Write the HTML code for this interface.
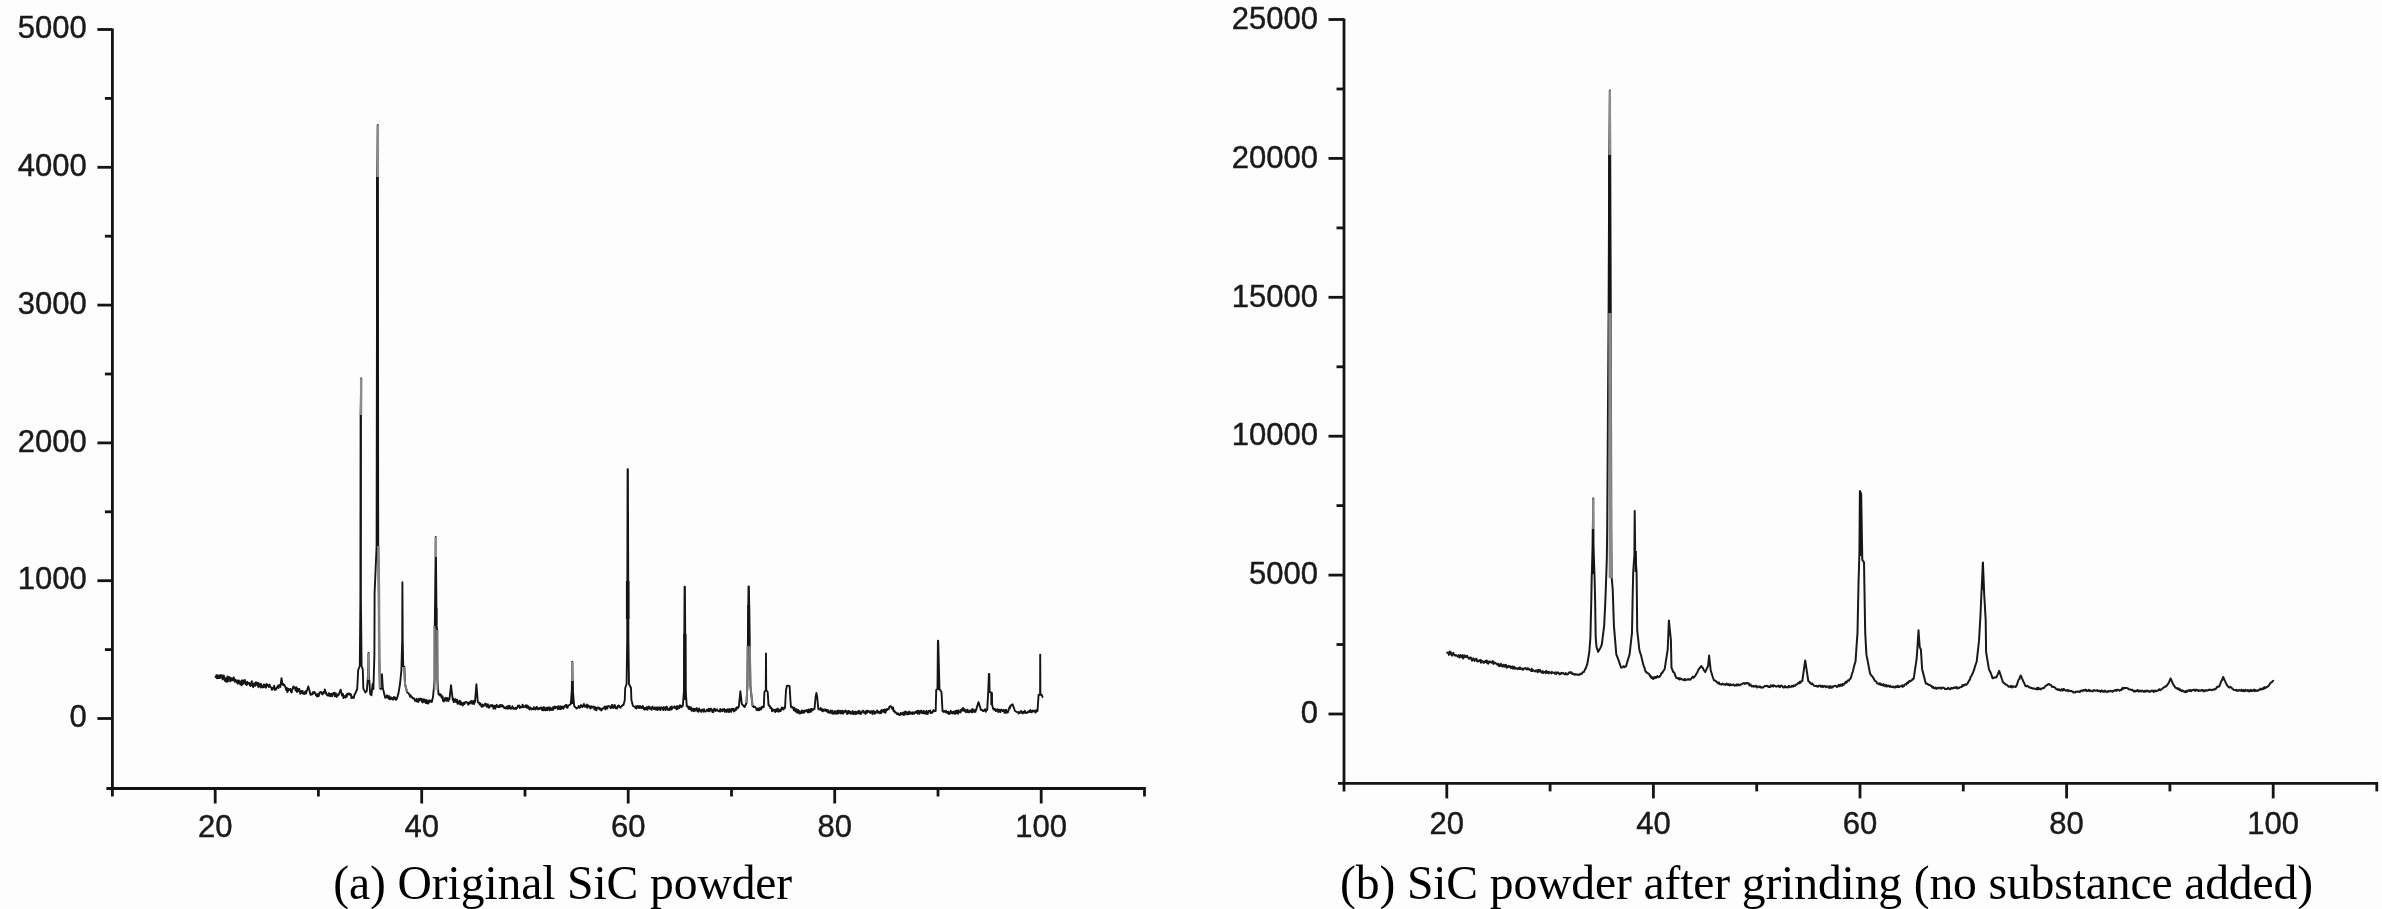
<!DOCTYPE html>
<html><head><meta charset="utf-8"><style>
html,body{margin:0;padding:0;background:#fdfdfd;}
body{width:2382px;height:909px;overflow:hidden;}
svg{display:block;will-change:transform;}
</style></head><body>
<svg width="2382" height="909" viewBox="0 0 2382 909" shape-rendering="geometricPrecision">
<line x1="112.4" y1="28.5" x2="112.4" y2="796.5" stroke="#141414" stroke-width="2.8"/>
<line x1="106.4" y1="788.5" x2="1144.5" y2="788.5" stroke="#141414" stroke-width="2.8"/>
<line x1="1144.5" y1="787.0" x2="1144.5" y2="796.5" stroke="#141414" stroke-width="2.8"/>
<line x1="97.4" y1="718.5" x2="112.4" y2="718.5" stroke="#141414" stroke-width="2.8"/>
<line x1="104.9" y1="649.6" x2="112.4" y2="649.6" stroke="#141414" stroke-width="2.8"/>
<line x1="97.4" y1="580.7" x2="112.4" y2="580.7" stroke="#141414" stroke-width="2.8"/>
<line x1="104.9" y1="511.8" x2="112.4" y2="511.8" stroke="#141414" stroke-width="2.8"/>
<line x1="97.4" y1="442.9" x2="112.4" y2="442.9" stroke="#141414" stroke-width="2.8"/>
<line x1="104.9" y1="374.0" x2="112.4" y2="374.0" stroke="#141414" stroke-width="2.8"/>
<line x1="97.4" y1="305.1" x2="112.4" y2="305.1" stroke="#141414" stroke-width="2.8"/>
<line x1="104.9" y1="236.2" x2="112.4" y2="236.2" stroke="#141414" stroke-width="2.8"/>
<line x1="97.4" y1="167.3" x2="112.4" y2="167.3" stroke="#141414" stroke-width="2.8"/>
<line x1="104.9" y1="98.4" x2="112.4" y2="98.4" stroke="#141414" stroke-width="2.8"/>
<line x1="97.4" y1="29.5" x2="112.4" y2="29.5" stroke="#141414" stroke-width="2.8"/>
<text x="86.8" y="727.2" font-family="Liberation Sans" font-size="31" text-anchor="end" fill="#1a1a1a" stroke="#1a1a1a" stroke-width="0.45">0</text>
<text x="86.8" y="589.4" font-family="Liberation Sans" font-size="31" text-anchor="end" fill="#1a1a1a" stroke="#1a1a1a" stroke-width="0.45">1000</text>
<text x="86.8" y="451.6" font-family="Liberation Sans" font-size="31" text-anchor="end" fill="#1a1a1a" stroke="#1a1a1a" stroke-width="0.45">2000</text>
<text x="86.8" y="313.8" font-family="Liberation Sans" font-size="31" text-anchor="end" fill="#1a1a1a" stroke="#1a1a1a" stroke-width="0.45">3000</text>
<text x="86.8" y="176.0" font-family="Liberation Sans" font-size="31" text-anchor="end" fill="#1a1a1a" stroke="#1a1a1a" stroke-width="0.45">4000</text>
<text x="86.8" y="38.2" font-family="Liberation Sans" font-size="31" text-anchor="end" fill="#1a1a1a" stroke="#1a1a1a" stroke-width="0.45">5000</text>
<line x1="215.2" y1="788.5" x2="215.2" y2="803.5" stroke="#141414" stroke-width="2.8"/>
<line x1="318.4" y1="788.5" x2="318.4" y2="796.5" stroke="#141414" stroke-width="2.8"/>
<line x1="421.7" y1="788.5" x2="421.7" y2="803.5" stroke="#141414" stroke-width="2.8"/>
<line x1="525.0" y1="788.5" x2="525.0" y2="796.5" stroke="#141414" stroke-width="2.8"/>
<line x1="628.2" y1="788.5" x2="628.2" y2="803.5" stroke="#141414" stroke-width="2.8"/>
<line x1="731.5" y1="788.5" x2="731.5" y2="796.5" stroke="#141414" stroke-width="2.8"/>
<line x1="834.7" y1="788.5" x2="834.7" y2="803.5" stroke="#141414" stroke-width="2.8"/>
<line x1="938.0" y1="788.5" x2="938.0" y2="796.5" stroke="#141414" stroke-width="2.8"/>
<line x1="1041.2" y1="788.5" x2="1041.2" y2="803.5" stroke="#141414" stroke-width="2.8"/>
<text x="215.2" y="837.4" font-family="Liberation Sans" font-size="31" text-anchor="middle" fill="#1a1a1a" stroke="#1a1a1a" stroke-width="0.45">20</text>
<text x="421.7" y="837.4" font-family="Liberation Sans" font-size="31" text-anchor="middle" fill="#1a1a1a" stroke="#1a1a1a" stroke-width="0.45">40</text>
<text x="628.2" y="837.4" font-family="Liberation Sans" font-size="31" text-anchor="middle" fill="#1a1a1a" stroke="#1a1a1a" stroke-width="0.45">60</text>
<text x="834.7" y="837.4" font-family="Liberation Sans" font-size="31" text-anchor="middle" fill="#1a1a1a" stroke="#1a1a1a" stroke-width="0.45">80</text>
<text x="1041.2" y="837.4" font-family="Liberation Sans" font-size="31" text-anchor="middle" fill="#1a1a1a" stroke="#1a1a1a" stroke-width="0.45">100</text>
<line x1="1344.0" y1="18.5" x2="1344.0" y2="791.4" stroke="#141414" stroke-width="2.8"/>
<line x1="1338.0" y1="783.4" x2="2376.8" y2="783.4" stroke="#141414" stroke-width="2.8"/>
<line x1="2376.8" y1="781.9" x2="2376.8" y2="791.4" stroke="#141414" stroke-width="2.8"/>
<line x1="1328.5" y1="714.0" x2="1344.0" y2="714.0" stroke="#141414" stroke-width="2.8"/>
<line x1="1336.5" y1="644.5" x2="1344.0" y2="644.5" stroke="#141414" stroke-width="2.8"/>
<line x1="1328.5" y1="575.1" x2="1344.0" y2="575.1" stroke="#141414" stroke-width="2.8"/>
<line x1="1336.5" y1="505.6" x2="1344.0" y2="505.6" stroke="#141414" stroke-width="2.8"/>
<line x1="1328.5" y1="436.2" x2="1344.0" y2="436.2" stroke="#141414" stroke-width="2.8"/>
<line x1="1336.5" y1="366.8" x2="1344.0" y2="366.8" stroke="#141414" stroke-width="2.8"/>
<line x1="1328.5" y1="297.3" x2="1344.0" y2="297.3" stroke="#141414" stroke-width="2.8"/>
<line x1="1336.5" y1="227.9" x2="1344.0" y2="227.9" stroke="#141414" stroke-width="2.8"/>
<line x1="1328.5" y1="158.4" x2="1344.0" y2="158.4" stroke="#141414" stroke-width="2.8"/>
<line x1="1336.5" y1="89.0" x2="1344.0" y2="89.0" stroke="#141414" stroke-width="2.8"/>
<line x1="1328.5" y1="19.5" x2="1344.0" y2="19.5" stroke="#141414" stroke-width="2.8"/>
<text x="1318.0" y="723.2" font-family="Liberation Sans" font-size="31" text-anchor="end" fill="#1a1a1a" stroke="#1a1a1a" stroke-width="0.45">0</text>
<text x="1318.0" y="584.3" font-family="Liberation Sans" font-size="31" text-anchor="end" fill="#1a1a1a" stroke="#1a1a1a" stroke-width="0.45">5000</text>
<text x="1318.0" y="445.4" font-family="Liberation Sans" font-size="31" text-anchor="end" fill="#1a1a1a" stroke="#1a1a1a" stroke-width="0.45">10000</text>
<text x="1318.0" y="306.5" font-family="Liberation Sans" font-size="31" text-anchor="end" fill="#1a1a1a" stroke="#1a1a1a" stroke-width="0.45">15000</text>
<text x="1318.0" y="167.6" font-family="Liberation Sans" font-size="31" text-anchor="end" fill="#1a1a1a" stroke="#1a1a1a" stroke-width="0.45">20000</text>
<text x="1318.0" y="28.7" font-family="Liberation Sans" font-size="31" text-anchor="end" fill="#1a1a1a" stroke="#1a1a1a" stroke-width="0.45">25000</text>
<line x1="1446.8" y1="783.4" x2="1446.8" y2="798.4" stroke="#141414" stroke-width="2.8"/>
<line x1="1550.1" y1="783.4" x2="1550.1" y2="791.4" stroke="#141414" stroke-width="2.8"/>
<line x1="1653.4" y1="783.4" x2="1653.4" y2="798.4" stroke="#141414" stroke-width="2.8"/>
<line x1="1756.7" y1="783.4" x2="1756.7" y2="791.4" stroke="#141414" stroke-width="2.8"/>
<line x1="1860.0" y1="783.4" x2="1860.0" y2="798.4" stroke="#141414" stroke-width="2.8"/>
<line x1="1963.3" y1="783.4" x2="1963.3" y2="791.4" stroke="#141414" stroke-width="2.8"/>
<line x1="2066.6" y1="783.4" x2="2066.6" y2="798.4" stroke="#141414" stroke-width="2.8"/>
<line x1="2169.9" y1="783.4" x2="2169.9" y2="791.4" stroke="#141414" stroke-width="2.8"/>
<line x1="2273.2" y1="783.4" x2="2273.2" y2="798.4" stroke="#141414" stroke-width="2.8"/>
<text x="1446.8" y="833.6" font-family="Liberation Sans" font-size="31" text-anchor="middle" fill="#1a1a1a" stroke="#1a1a1a" stroke-width="0.45">20</text>
<text x="1653.4" y="833.6" font-family="Liberation Sans" font-size="31" text-anchor="middle" fill="#1a1a1a" stroke="#1a1a1a" stroke-width="0.45">40</text>
<text x="1860.0" y="833.6" font-family="Liberation Sans" font-size="31" text-anchor="middle" fill="#1a1a1a" stroke="#1a1a1a" stroke-width="0.45">60</text>
<text x="2066.6" y="833.6" font-family="Liberation Sans" font-size="31" text-anchor="middle" fill="#1a1a1a" stroke="#1a1a1a" stroke-width="0.45">80</text>
<text x="2273.2" y="833.6" font-family="Liberation Sans" font-size="31" text-anchor="middle" fill="#1a1a1a" stroke="#1a1a1a" stroke-width="0.45">100</text>
<text x="333.3" y="899.2" font-family="Liberation Serif" font-size="47.6" text-anchor="start" fill="#000" textLength="458.9" lengthAdjust="spacing">(a) Original SiC powder</text>
<text x="1340.0" y="899.2" font-family="Liberation Serif" font-size="47.6" text-anchor="start" fill="#000" textLength="973" lengthAdjust="spacing">(b) SiC powder after grinding (no substance added)</text>
<polyline points="215.5,677.0 216.0,676.1 216.4,675.2 216.9,678.4 217.4,675.1 217.9,678.0 218.3,677.1 218.8,678.1 219.3,675.4 219.8,678.0 220.3,675.2 220.8,677.5 221.2,675.2 221.7,675.3 222.2,677.3 222.7,679.6 223.2,677.6 223.7,675.5 224.1,676.3 224.6,679.0 225.1,681.1 225.6,679.1 226.1,678.2 226.5,681.9 227.0,679.2 227.5,676.5 227.9,681.5 228.4,678.1 228.8,677.3 229.3,677.2 229.8,678.4 230.2,681.4 230.7,677.7 231.1,680.1 231.6,680.5 232.0,679.0 232.5,679.8 233.0,680.3 233.4,677.5 233.9,677.7 234.3,678.8 234.8,681.8 235.2,680.5 235.7,680.0 236.2,681.8 236.6,681.2 237.1,680.4 237.5,683.6 238.0,682.0 238.5,683.2 238.9,680.5 239.4,682.6 239.8,682.3 240.3,684.5 240.8,683.6 241.2,681.0 241.7,685.2 242.1,680.1 242.6,681.9 243.0,684.0 243.5,682.5 244.0,680.5 244.4,682.5 244.9,679.9 245.3,683.7 245.8,684.3 246.2,683.2 246.7,685.0 247.2,681.7 247.6,684.0 248.1,683.5 248.5,683.4 249.0,683.0 249.5,682.9 249.9,685.3 250.4,686.1 250.8,683.4 251.3,684.7 251.8,681.2 252.2,685.2 252.7,685.0 253.1,687.2 253.6,686.3 254.0,683.3 254.5,684.7 255.0,684.1 255.4,685.9 255.9,682.1 256.3,684.8 256.8,683.2 257.2,683.0 257.7,682.7 258.2,687.0 258.6,683.3 259.1,684.1 259.5,685.1 260.0,685.8 260.5,687.5 260.9,683.7 261.4,685.4 261.8,685.9 262.3,687.4 262.8,687.1 263.2,687.3 263.7,684.4 264.1,685.0 264.6,684.7 265.0,687.2 265.5,685.3 266.0,687.7 266.4,684.0 266.9,684.3 267.3,684.7 267.8,684.9 268.2,686.3 268.7,687.0 269.2,685.6 269.6,684.6 270.1,686.7 270.5,686.7 271.0,687.5 271.5,687.9 271.9,689.8 272.4,688.5 272.8,687.7 273.3,688.3 273.8,688.6 274.2,685.7 274.7,689.8 275.1,689.2 275.6,689.7 276.0,689.4 276.5,688.0 277.0,687.3 277.5,687.2 278.0,685.7 278.4,688.1 278.9,685.2 279.4,685.1 279.9,685.6 280.4,686.9 281.5,678.1 282.6,684.7 283.1,683.8 283.6,685.3 284.0,684.6 284.5,685.1 285.0,686.5 285.4,686.9 285.9,688.9 286.4,690.2 286.9,688.0 287.4,692.1 287.9,690.9 288.4,688.8 288.8,689.3 289.3,689.9 289.8,690.0 290.3,688.9 290.8,690.8 291.3,692.1 291.7,692.4 292.2,689.4 292.7,689.1 293.2,686.8 293.6,686.5 294.1,688.0 294.6,687.6 295.1,687.5 295.6,690.5 296.1,687.6 296.5,687.3 297.0,692.0 297.5,690.3 298.0,688.8 298.5,690.8 299.0,691.2 299.4,688.9 299.9,691.5 300.3,693.8 300.8,693.5 301.2,692.8 301.7,690.9 302.2,691.6 302.6,690.9 303.1,693.9 303.5,693.0 304.0,693.0 304.5,694.0 305.0,691.9 305.5,691.2 306.0,693.5 306.5,692.0 308.3,686.4 310.0,692.5 310.5,694.7 310.9,694.3 311.4,694.3 311.9,694.5 312.3,694.3 312.8,692.3 313.2,693.7 313.7,693.2 314.2,691.9 314.6,692.1 315.1,693.3 315.6,693.4 316.0,695.4 316.5,694.7 317.0,696.5 317.4,694.2 317.9,696.1 318.3,696.2 318.8,695.9 319.2,693.3 319.7,692.5 320.2,692.4 320.6,692.2 321.1,692.0 321.5,693.7 322.0,693.0 322.5,694.4 322.9,693.8 323.4,692.0 323.9,692.4 324.4,692.7 324.8,689.4 325.3,690.8 325.9,692.4 326.4,694.5 326.9,694.9 327.5,694.7 328.0,695.7 328.4,694.5 328.9,693.2 329.3,695.7 329.8,693.7 330.2,695.7 330.7,696.3 331.2,693.9 331.6,693.8 332.1,696.1 332.5,695.1 333.0,694.1 333.5,692.8 333.9,692.7 334.4,692.9 334.8,696.2 335.3,695.8 335.8,693.2 336.2,696.1 336.7,696.9 337.1,695.6 337.6,694.4 338.0,695.3 338.5,695.2 340.7,689.7 342.0,695.5 342.5,694.2 343.0,693.9 343.5,698.1 344.0,696.3 344.5,696.7 344.9,696.0 345.4,697.6 345.8,695.3 346.3,696.9 346.8,696.6 347.2,693.8 347.7,693.8 348.1,693.8 348.6,693.4 349.0,694.6 349.5,694.1 350.0,693.6 350.4,694.9 350.9,694.2 351.4,698.1 351.9,696.3 352.3,697.3 352.8,698.0 353.4,697.4 353.9,697.7 354.4,694.7 355.0,694.1 357.2,689.0 358.2,670.0 359.8,666.0 360.4,600.0 360.6,415.0 361.2,378.5 361.0,415.0 360.9,600.0 361.6,666.0 362.8,669.5 363.3,688.6 365.5,692.5 366.8,691.0 368.1,675.0 368.5,653.0 368.9,675.0 370.2,694.0 371.5,695.2 372.6,684.0 373.4,689.0 374.4,655.0 374.6,593.0 376.6,546.0 377.2,177.0 377.8,125.0 377.9,177.0 378.2,546.0 378.8,592.0 379.3,660.0 380.0,688.0 381.0,689.0 382.0,674.3 382.8,688.0 384.7,695.8 385.2,697.9 385.6,696.4 386.1,696.9 386.6,697.2 387.1,695.3 387.5,697.4 388.0,698.0 388.5,696.7 388.9,696.0 389.4,699.4 389.8,696.8 390.3,698.1 390.8,699.2 391.2,698.5 391.7,697.6 392.1,698.5 392.6,698.6 393.0,699.7 393.5,698.5 394.0,696.9 394.4,698.9 394.9,697.7 395.4,697.8 395.9,700.0 396.3,699.0 396.8,699.0 398.4,693.6 400.0,684.0 401.4,670.0 402.2,640.0 402.4,582.3 402.7,640.0 403.2,666.0 404.4,667.0 405.0,684.0 407.0,692.0 408.8,693.6 409.3,694.3 409.7,695.7 410.2,696.8 410.7,695.3 411.1,696.5 411.6,696.6 412.1,697.1 412.5,698.3 413.0,698.0 413.5,698.0 413.9,698.6 414.4,698.6 414.9,700.7 415.3,699.9 415.8,700.9 416.3,701.4 416.7,698.8 417.2,700.0 417.7,700.3 418.1,702.0 418.6,701.6 419.0,698.7 419.5,698.7 420.0,700.1 420.4,698.6 420.9,699.4 421.3,698.7 421.8,701.3 422.2,701.8 422.7,702.4 423.2,699.3 423.6,701.7 424.1,701.6 424.5,699.4 425.0,701.0 425.5,702.7 425.9,703.1 426.4,700.0 426.8,703.2 427.3,700.9 427.7,701.3 428.2,703.5 428.6,702.9 429.1,700.2 429.5,701.4 430.0,701.8 430.4,701.1 430.9,700.6 431.3,701.2 431.8,702.0 433.0,697.0 434.6,680.0 434.8,626.0 435.8,537.0 436.6,626.0 437.2,630.0 437.4,680.0 438.5,694.0 439.0,694.7 439.4,694.0 439.9,695.5 440.3,695.6 440.8,694.3 441.2,696.1 441.7,697.8 442.1,697.7 442.6,696.3 443.0,700.7 443.5,700.3 443.9,701.5 444.4,700.0 444.9,698.2 445.3,698.8 445.8,697.8 446.3,700.8 446.7,698.6 447.2,697.9 447.6,699.0 448.1,701.0 448.6,700.5 449.0,698.1 449.5,699.0 451.0,685.3 452.8,700.0 453.3,698.7 453.7,702.1 454.2,700.8 454.7,701.6 455.2,699.2 455.6,699.2 456.1,702.1 456.6,701.1 457.1,699.8 457.5,703.7 458.0,702.0 458.5,702.7 458.9,703.6 459.4,700.8 459.9,704.2 460.4,701.1 460.8,704.6 461.3,703.1 461.8,702.8 462.3,703.9 462.7,705.6 463.2,704.0 463.7,703.0 464.1,702.4 464.6,704.0 465.0,702.8 465.5,702.2 465.9,702.4 466.4,701.9 466.8,702.5 467.3,702.9 467.7,702.8 468.2,704.7 468.6,702.7 469.1,703.6 469.5,702.2 470.0,703.5 470.5,702.7 470.9,701.2 471.4,702.0 471.8,700.9 472.3,703.8 472.7,702.9 473.2,701.2 473.6,702.3 474.1,704.1 474.5,700.5 475.0,702.0 476.4,684.2 477.8,702.0 478.3,702.6 478.7,702.5 479.2,703.0 479.7,704.6 480.1,703.2 480.6,704.0 481.1,705.1 481.5,706.7 482.0,705.0 482.5,704.4 482.9,706.5 483.4,706.1 483.8,705.9 484.3,705.0 484.7,704.8 485.2,703.6 485.6,704.0 486.1,703.9 486.5,706.7 487.0,704.8 487.4,704.5 487.9,704.2 488.3,707.5 488.8,706.1 489.3,707.7 489.7,706.9 490.2,705.3 490.7,705.2 491.1,705.5 491.6,706.2 492.0,705.0 492.5,706.3 493.0,705.5 493.4,708.5 493.9,708.6 494.4,706.9 494.8,705.6 495.3,708.7 495.7,706.0 496.2,706.3 496.7,704.8 497.1,706.5 497.6,707.0 498.1,706.9 498.5,707.0 499.0,705.7 499.5,707.0 499.9,704.9 500.4,706.0 500.8,705.3 501.3,706.6 501.8,705.1 502.2,705.0 502.7,706.2 503.2,705.9 503.6,707.4 504.1,707.1 504.5,708.1 505.0,707.7 505.5,707.9 505.9,708.6 506.4,707.0 506.9,706.6 507.3,706.5 507.8,708.9 508.3,705.9 508.7,708.0 509.2,707.8 509.6,705.7 510.1,708.5 510.6,708.8 511.0,707.9 511.5,708.3 512.0,708.6 512.4,706.2 512.9,707.7 513.3,707.6 513.8,708.9 514.3,708.8 514.7,708.9 515.2,707.8 515.7,708.0 516.1,709.0 516.6,708.2 517.1,708.1 517.5,706.4 518.0,705.6 518.4,705.9 518.9,706.6 519.4,705.6 519.8,708.1 520.3,707.0 520.8,707.2 521.2,707.1 521.7,707.2 522.1,706.4 522.6,704.6 523.1,707.4 523.5,707.1 524.0,706.1 524.5,706.2 524.9,706.5 525.4,707.1 525.9,705.1 526.3,707.6 526.8,706.0 527.2,705.5 527.7,706.4 528.2,708.2 528.6,706.4 529.1,708.5 529.6,709.5 530.0,707.9 530.5,707.6 530.9,708.1 531.4,709.0 531.9,709.4 532.3,709.0 532.8,708.7 533.3,709.2 533.7,707.2 534.2,707.4 534.7,707.8 535.1,709.6 535.6,708.0 536.0,708.9 536.5,706.9 537.0,707.1 537.4,707.9 537.9,709.3 538.4,709.4 538.8,709.3 539.3,707.9 539.7,708.8 540.2,708.6 540.7,708.6 541.1,707.3 541.6,708.7 542.1,710.1 542.5,707.6 543.0,710.4 543.5,710.3 543.9,707.0 544.4,708.6 544.8,709.9 545.3,710.4 545.8,708.5 546.2,707.9 546.7,707.7 547.2,710.3 547.6,707.7 548.1,709.0 548.5,707.4 549.0,708.8 549.5,710.3 549.9,707.4 550.4,708.7 550.9,709.8 551.3,708.6 551.8,710.0 552.3,709.2 552.7,707.5 553.2,709.8 553.6,708.3 554.1,706.6 554.6,706.5 555.0,708.2 555.5,708.0 556.0,707.4 556.4,706.8 556.9,707.5 557.3,707.3 557.8,709.2 558.3,706.1 558.7,708.8 559.2,707.8 559.7,708.9 560.1,706.3 560.6,709.1 561.1,708.2 561.5,708.8 562.0,706.5 562.4,706.7 562.9,706.7 563.4,708.8 563.8,707.2 564.3,706.3 564.8,706.5 565.2,705.8 565.7,704.9 566.1,705.0 566.6,707.6 567.1,705.5 567.5,707.8 568.0,706.1 570.8,704.0 571.8,690.0 572.3,662.0 572.8,690.0 574.2,706.0 576.7,708.6 577.2,708.0 577.7,707.4 578.2,707.5 578.7,706.0 579.1,706.2 579.6,707.9 580.1,707.3 580.6,706.6 581.1,705.1 581.6,705.7 582.0,706.8 582.5,707.0 583.0,705.6 583.4,706.3 583.9,704.0 584.4,706.6 584.8,705.6 585.3,706.8 585.8,706.5 586.3,705.3 586.7,704.6 587.2,707.8 587.7,705.0 588.1,706.3 588.6,706.0 589.1,705.9 589.5,707.6 590.0,706.8 590.5,708.6 590.9,706.2 591.4,707.7 591.8,706.6 592.3,707.6 592.7,707.2 593.2,706.5 593.6,706.6 594.1,706.9 594.5,709.5 595.0,708.1 595.5,707.3 595.9,709.9 596.4,710.3 596.8,708.5 597.3,707.5 597.7,707.8 598.2,707.5 598.6,708.6 599.1,707.8 599.5,708.4 600.0,709.5 600.5,708.5 600.9,709.5 601.4,710.5 601.8,709.9 602.3,708.5 602.7,708.4 603.2,708.6 603.6,708.0 604.1,707.7 604.5,706.6 605.0,707.2 605.5,709.5 605.9,706.4 606.4,707.6 606.8,707.9 607.3,708.6 607.7,706.2 608.2,706.2 608.6,706.0 609.1,706.4 609.5,706.4 610.0,706.5 610.5,708.2 610.9,707.8 611.4,707.9 611.9,704.9 612.4,705.0 612.8,707.4 613.3,708.1 613.8,706.6 614.2,707.1 614.7,705.0 615.2,706.4 615.6,708.4 616.1,708.1 616.6,708.2 617.1,708.6 617.5,706.1 618.0,707.0 618.5,705.4 618.9,705.4 619.4,706.6 619.8,707.0 620.3,707.8 620.8,706.8 621.2,706.4 621.7,706.5 622.1,705.4 622.6,705.4 623.0,704.8 623.5,705.0 624.8,700.0 625.2,688.0 626.6,684.0 627.2,640.0 627.6,469.3 627.9,469.3 628.4,640.0 629.0,684.0 631.0,688.0 631.4,700.0 633.0,706.0 635.0,707.0 635.5,708.1 635.9,706.1 636.4,708.6 636.8,707.7 637.3,706.5 637.7,705.9 638.2,706.4 638.6,707.9 639.1,708.1 639.5,706.1 640.0,706.0 640.5,707.6 640.9,707.9 641.4,707.2 641.8,706.7 642.3,708.1 642.7,706.0 643.2,707.1 643.6,707.7 644.1,709.6 644.5,708.5 645.0,708.0 645.5,709.4 645.9,708.0 646.4,707.1 646.9,707.2 647.4,709.8 647.8,708.9 648.3,707.4 648.8,706.4 649.2,708.2 649.7,708.8 650.2,707.9 650.6,707.4 651.1,708.9 651.6,709.8 652.0,707.3 652.5,706.6 653.0,707.8 653.5,708.1 653.9,709.0 654.4,708.4 654.9,707.3 655.3,709.5 655.8,709.3 656.2,708.4 656.7,707.4 657.2,710.1 657.6,707.8 658.1,709.6 658.5,707.5 659.0,707.4 659.5,709.4 659.9,707.7 660.4,710.1 660.9,708.4 661.3,707.3 661.8,707.5 662.2,708.2 662.7,709.1 663.2,710.1 663.6,707.2 664.1,708.1 664.5,707.5 665.0,708.5 665.5,710.2 665.9,707.2 666.4,706.8 666.8,706.8 667.3,708.0 667.7,709.8 668.2,709.7 668.6,709.2 669.1,710.1 669.5,709.8 670.0,707.6 670.5,707.1 670.9,709.8 671.4,709.1 671.8,706.5 672.3,708.7 672.7,707.7 673.2,707.6 673.6,707.5 674.1,706.9 674.5,706.2 675.0,708.0 675.5,707.1 675.9,707.2 676.4,709.3 676.8,706.2 677.3,709.1 677.8,706.2 678.2,706.7 678.7,708.2 679.1,708.1 679.6,706.6 680.0,705.1 680.5,706.5 681.0,706.1 681.4,707.4 681.9,705.7 682.3,706.0 682.8,706.0 684.0,690.0 684.6,586.6 684.9,586.6 685.6,690.0 686.8,706.0 687.3,706.8 687.7,706.1 688.2,707.1 688.6,708.7 689.1,709.1 689.5,706.9 690.0,709.0 690.5,707.4 690.9,707.5 691.4,710.7 691.8,708.4 692.3,710.2 692.7,710.8 693.2,708.8 693.6,708.7 694.1,711.2 694.5,710.0 695.0,708.8 695.5,710.5 695.9,709.1 696.4,709.0 696.8,708.1 697.3,710.9 697.7,711.5 698.2,710.5 698.6,711.7 699.1,708.5 699.5,709.3 700.0,710.3 700.5,710.2 700.9,711.9 701.4,711.9 701.8,709.9 702.3,709.4 702.8,710.0 703.2,710.3 703.7,711.8 704.1,709.2 704.6,711.4 705.0,711.2 705.5,711.5 706.0,711.3 706.4,710.7 706.9,709.7 707.3,709.7 707.8,709.8 708.2,711.3 708.7,708.8 709.2,709.2 709.6,711.2 710.1,709.4 710.5,708.7 711.0,708.6 711.5,710.5 711.9,709.7 712.4,712.0 712.8,711.7 713.3,712.1 713.8,709.5 714.2,708.8 714.7,708.8 715.1,710.3 715.6,711.1 716.0,710.1 716.5,710.3 717.0,709.3 717.4,710.0 717.9,710.7 718.3,710.9 718.8,711.2 719.2,711.5 719.7,710.9 720.2,708.9 720.6,711.5 721.1,709.6 721.5,710.5 722.0,709.8 722.5,711.2 722.9,709.2 723.4,709.4 723.8,709.4 724.3,709.1 724.8,711.7 725.2,710.6 725.7,709.7 726.1,709.9 726.6,712.1 727.0,710.3 727.5,709.3 728.0,711.4 728.4,710.9 728.9,712.1 729.3,708.9 729.8,710.2 730.2,711.4 730.7,711.5 731.2,711.8 731.6,708.6 732.1,709.6 732.5,708.9 733.0,710.3 733.5,708.9 734.0,711.5 734.5,709.8 734.9,710.7 735.4,708.5 735.9,710.0 736.4,708.2 736.9,707.3 737.3,708.5 737.8,708.3 738.3,706.9 738.8,707.0 740.4,691.3 741.8,704.0 744.6,707.0 746.5,703.0 747.4,686.0 748.5,586.5 748.9,586.5 750.4,686.0 752.6,706.0 753.1,706.5 753.5,707.0 754.0,706.5 754.5,707.1 755.0,706.7 755.4,707.3 755.9,707.9 756.4,709.5 756.9,710.1 757.3,708.8 757.8,710.3 758.3,708.3 758.7,709.2 759.2,710.2 759.6,708.2 760.1,708.4 760.6,707.7 761.0,709.6 761.5,708.4 762.0,706.6 762.4,706.8 762.9,707.3 763.3,707.3 763.8,707.0 764.4,692.0 765.8,690.0 766.0,653.4 766.2,690.0 767.7,692.0 768.5,705.0 769.0,705.7 769.4,705.5 769.9,705.9 770.3,708.0 770.8,707.6 771.2,707.8 771.7,708.4 772.1,711.3 772.6,710.3 773.1,709.6 773.5,710.5 774.0,709.8 774.5,710.0 775.0,711.6 775.4,712.1 775.9,709.8 776.4,709.2 776.8,711.1 777.3,709.2 777.8,708.5 778.3,711.7 778.7,710.0 779.2,710.3 779.7,711.3 780.2,709.6 780.7,711.1 781.1,709.4 781.6,708.1 782.1,707.4 782.6,709.1 783.1,709.3 783.5,709.6 784.0,707.7 784.5,708.3 785.0,708.0 786.0,690.0 787.0,685.6 789.6,686.0 790.4,700.0 791.0,707.0 791.5,707.2 791.9,707.6 792.4,707.0 792.9,707.4 793.4,708.5 793.8,710.3 794.3,707.7 794.8,709.3 795.2,710.7 795.7,711.6 796.2,709.1 796.6,709.2 797.1,712.4 797.6,712.8 798.1,711.3 798.5,710.1 799.0,712.0 799.5,713.5 799.9,711.5 800.4,713.3 800.8,712.3 801.3,713.0 801.8,710.5 802.2,712.7 802.7,710.7 803.1,711.3 803.6,712.8 804.0,712.7 804.5,710.4 805.0,710.4 805.4,711.1 805.9,711.4 806.3,710.9 806.8,709.9 807.2,710.3 807.7,712.0 808.2,712.6 808.6,709.5 809.1,711.3 809.5,712.0 810.0,711.0 810.5,709.1 810.9,711.8 811.4,709.0 811.8,710.6 812.2,710.2 812.7,710.2 813.1,709.1 813.6,709.3 814.0,709.3 814.5,709.0 815.6,697.0 816.4,693.0 817.2,697.0 818.3,709.0 818.8,709.1 819.2,709.5 819.7,709.3 820.1,709.3 820.6,707.9 821.0,710.2 821.5,709.9 822.0,709.1 822.4,711.1 822.9,711.3 823.3,710.3 823.8,709.4 824.2,710.6 824.7,709.4 825.1,709.6 825.6,710.8 826.1,709.7 826.5,711.1 827.0,711.5 827.4,710.0 827.9,712.2 828.3,710.4 828.8,712.0 829.3,712.8 829.7,713.0 830.2,712.0 830.7,710.4 831.1,712.0 831.6,711.6 832.1,713.6 832.5,710.7 833.0,713.3 833.5,713.8 833.9,712.8 834.4,713.1 834.9,710.9 835.3,713.7 835.8,712.0 836.3,713.6 836.7,713.5 837.2,710.8 837.7,713.0 838.1,713.6 838.6,710.4 839.1,711.5 839.5,712.9 840.0,712.0 840.5,710.8 840.9,713.5 841.4,711.2 841.8,713.2 842.3,710.8 842.7,712.1 843.2,713.6 843.6,711.1 844.1,711.3 844.5,712.2 845.0,711.5 845.4,710.5 845.9,711.0 846.3,711.0 846.8,713.8 847.2,712.9 847.7,713.7 848.1,711.1 848.6,713.3 849.0,710.9 849.5,712.4 849.9,712.8 850.4,711.8 850.8,713.7 851.3,712.5 851.7,712.6 852.2,713.7 852.6,711.0 853.1,712.4 853.6,714.2 854.0,712.9 854.5,712.0 854.9,713.5 855.4,711.6 855.8,714.2 856.3,712.7 856.7,711.9 857.2,713.4 857.6,712.2 858.1,711.2 858.5,713.3 859.0,710.8 859.4,713.6 859.9,711.5 860.3,712.9 860.8,714.1 861.3,712.7 861.7,713.0 862.2,711.7 862.6,710.6 863.1,710.7 863.5,711.1 864.0,712.8 864.4,712.2 864.9,712.4 865.3,713.8 865.8,711.1 866.2,711.4 866.7,713.0 867.1,710.7 867.6,710.6 868.0,711.9 868.5,711.0 869.0,711.9 869.4,711.4 869.9,712.7 870.3,712.7 870.8,711.3 871.2,712.8 871.7,712.3 872.1,711.1 872.6,714.0 873.0,711.5 873.5,711.1 873.9,710.9 874.4,712.9 874.8,713.7 875.3,713.4 875.7,712.0 876.2,712.4 876.7,711.5 877.1,710.5 877.6,712.7 878.1,712.4 878.5,711.5 879.0,712.5 879.5,711.7 879.9,713.4 880.4,712.6 880.9,710.8 881.3,713.1 881.8,710.0 882.3,711.6 882.7,711.1 883.2,710.5 883.7,709.7 884.1,712.3 884.6,709.4 885.1,711.3 885.5,712.7 886.0,711.0 886.5,709.2 886.9,708.9 887.4,709.9 887.9,709.1 888.4,709.1 888.8,709.1 889.3,706.7 889.8,706.8 890.2,706.4 890.7,706.1 891.2,706.3 891.7,708.0 892.2,708.7 892.6,709.3 893.1,707.4 893.6,711.1 894.1,711.3 894.6,711.0 895.1,712.6 895.5,712.2 896.0,712.5 896.5,713.2 897.0,714.2 897.5,713.9 897.9,713.3 898.4,713.6 898.9,714.8 899.3,714.6 899.8,715.1 900.2,714.5 900.7,712.9 901.2,713.9 901.6,713.4 902.1,714.6 902.6,713.6 903.0,712.6 903.5,713.9 904.0,715.0 904.4,712.2 904.9,714.5 905.3,711.4 905.8,712.2 906.3,712.0 906.7,713.8 907.2,714.5 907.7,713.7 908.1,712.1 908.6,714.1 909.0,712.0 909.5,711.6 910.0,714.0 910.4,712.9 910.9,712.4 911.4,713.1 911.8,713.0 912.3,714.1 912.7,712.3 913.2,713.6 913.6,713.1 914.1,713.7 914.5,712.2 915.0,713.2 915.5,712.7 915.9,711.7 916.4,711.4 916.8,712.8 917.3,710.9 917.7,713.9 918.2,711.1 918.6,710.7 919.1,711.0 919.5,713.9 920.0,711.8 920.5,711.1 920.9,710.7 921.4,710.7 921.8,713.1 922.3,712.9 922.7,713.1 923.2,713.3 923.6,710.8 924.1,712.7 924.6,711.9 925.0,713.5 925.5,713.6 925.9,713.8 926.4,710.8 926.8,713.7 927.3,713.9 927.7,714.0 928.2,712.4 928.7,710.9 929.2,711.2 929.7,710.7 930.1,710.4 930.6,713.2 931.1,713.0 931.6,712.2 932.1,712.8 932.5,712.0 933.0,710.7 933.5,710.0 934.0,711.3 935.7,711.0 936.2,690.0 937.5,689.0 937.9,640.8 938.2,640.8 939.5,689.0 941.5,692.0 942.5,711.0 943.0,710.9 943.5,711.9 944.0,710.9 944.6,711.3 945.1,711.9 945.6,712.4 946.1,710.7 946.5,711.5 947.0,711.6 947.5,713.2 948.0,711.9 948.4,711.8 948.9,714.1 949.4,712.5 949.8,713.7 950.3,712.9 950.8,710.8 951.2,712.1 951.7,712.2 952.2,713.5 952.6,711.9 953.1,713.2 953.6,712.6 954.1,711.5 954.5,713.8 955.0,712.5 955.5,711.0 955.9,713.5 956.4,711.1 956.8,710.5 957.3,711.2 957.7,713.1 958.2,713.8 958.6,710.3 959.1,712.0 959.5,711.9 960.0,711.9 960.5,712.5 961.0,709.8 961.5,710.4 961.9,709.3 962.4,710.6 962.9,708.0 963.4,708.4 963.9,710.8 964.4,709.2 964.9,709.7 965.4,711.5 965.9,712.2 966.3,711.4 966.8,710.0 967.2,711.8 967.7,709.8 968.1,712.3 968.6,711.9 969.1,712.2 969.5,711.6 970.0,710.5 970.4,710.7 970.9,710.6 971.3,712.3 971.8,709.4 972.2,712.2 972.7,709.1 973.2,709.7 973.6,709.9 974.1,712.1 974.5,710.6 975.0,710.2 975.4,711.9 975.9,710.5 978.5,702.1 981.0,710.0 981.5,709.8 982.0,710.0 982.4,710.2 982.9,711.1 983.4,711.1 983.9,710.8 984.4,709.8 984.9,709.7 985.3,709.2 985.8,711.7 986.3,710.5 987.2,710.0 988.2,692.0 988.9,673.9 989.3,673.9 989.6,692.0 991.6,692.7 992.2,705.0 993.2,709.0 993.7,709.4 994.2,709.9 994.7,708.7 995.3,709.6 995.8,711.1 996.3,710.6 996.8,710.5 997.3,709.2 997.7,710.5 998.2,712.0 998.6,709.7 999.1,709.6 999.5,710.0 1000.0,711.5 1000.4,712.1 1000.9,709.6 1001.3,709.7 1001.8,710.1 1002.2,710.4 1002.7,711.1 1003.1,709.9 1003.6,710.5 1004.0,710.1 1004.5,712.9 1004.9,712.1 1005.4,709.9 1005.8,713.0 1006.3,710.0 1006.7,711.0 1007.2,711.5 1007.7,712.6 1008.2,711.2 1008.6,710.3 1009.1,708.6 1009.6,707.1 1010.1,708.0 1010.6,705.5 1011.1,705.4 1011.5,705.3 1012.0,704.5 1012.5,704.2 1015.0,711.0 1017.7,712.5 1018.2,712.1 1018.6,713.5 1019.1,713.1 1019.5,712.3 1020.0,712.8 1020.4,712.1 1020.9,710.9 1021.3,712.5 1021.8,711.8 1022.2,712.9 1022.7,713.5 1023.1,711.7 1023.6,712.2 1024.0,712.8 1024.5,711.6 1024.9,710.8 1025.4,712.6 1025.8,713.1 1026.3,712.7 1026.7,712.4 1027.2,712.9 1027.6,712.2 1028.1,711.5 1028.6,712.0 1029.0,711.3 1029.5,710.8 1030.0,711.9 1030.4,709.9 1030.9,711.1 1031.4,712.3 1031.9,712.1 1032.3,711.7 1032.8,710.4 1033.3,710.9 1033.7,711.0 1034.2,711.6 1034.7,710.8 1035.2,711.8 1035.6,712.6 1036.1,710.3 1036.6,711.3 1037.0,711.3 1037.5,711.0 1038.6,694.8 1040.1,694.8 1040.2,654.6 1040.4,694.8 1041.7,694.8 1042.5,697.0" fill="none" stroke="#151515" stroke-width="1.9" stroke-linejoin="round" stroke-linecap="round"/>
<polyline points="361.1,378.5 361.1,415.0" fill="none" stroke="#8c8c8c" stroke-width="2.3" stroke-linejoin="round" stroke-linecap="butt"/>
<polyline points="368.5,653.0 368.5,680.0" fill="none" stroke="#8c8c8c" stroke-width="2.3" stroke-linejoin="round" stroke-linecap="butt"/>
<polyline points="377.8,125.0 377.8,177.0" fill="none" stroke="#8c8c8c" stroke-width="2.5" stroke-linejoin="round" stroke-linecap="butt"/>
<polyline points="377.2,177.0 377.2,545.0" fill="none" stroke="#141414" stroke-width="2.3" stroke-linejoin="round" stroke-linecap="butt"/>
<polyline points="378.4,546.0 378.9,592.0 379.3,660.0 380.0,688.0" fill="none" stroke="#858585" stroke-width="2.6" stroke-linejoin="round" stroke-linecap="butt"/>
<polyline points="404.0,667.0 405.0,684.0 407.0,692.0" fill="none" stroke="#7a7a7a" stroke-width="2.0" stroke-linejoin="round" stroke-linecap="butt"/>
<polyline points="435.8,537.0 435.8,557.0" fill="none" stroke="#8c8c8c" stroke-width="2.4" stroke-linejoin="round" stroke-linecap="butt"/>
<polyline points="435.9,608.0 435.9,625.0" fill="none" stroke="#141414" stroke-width="3.0" stroke-linejoin="round" stroke-linecap="butt"/>
<polyline points="434.4,626.0 434.6,690.0" fill="none" stroke="#7a7a7a" stroke-width="2.0" stroke-linejoin="round" stroke-linecap="butt"/>
<polyline points="437.3,630.0 437.5,690.0" fill="none" stroke="#7a7a7a" stroke-width="2.0" stroke-linejoin="round" stroke-linecap="butt"/>
<polyline points="572.3,662.0 572.3,681.0" fill="none" stroke="#8c8c8c" stroke-width="2.3" stroke-linejoin="round" stroke-linecap="butt"/>
<polyline points="572.3,681.0 572.3,704.0" fill="none" stroke="#141414" stroke-width="2.6" stroke-linejoin="round" stroke-linecap="butt"/>
<polyline points="627.7,581.0 627.7,619.0" fill="none" stroke="#141414" stroke-width="3.6" stroke-linejoin="round" stroke-linecap="butt"/>
<polyline points="684.9,634.0 684.9,700.0" fill="none" stroke="#141414" stroke-width="3.2" stroke-linejoin="round" stroke-linecap="butt"/>
<polyline points="748.7,605.0 748.7,643.0" fill="none" stroke="#141414" stroke-width="2.8" stroke-linejoin="round" stroke-linecap="butt"/>
<polyline points="747.6,646.0 747.4,686.0 746.5,703.0" fill="none" stroke="#7a7a7a" stroke-width="2.0" stroke-linejoin="round" stroke-linecap="butt"/>
<polyline points="749.9,646.0 750.4,686.0 752.6,706.0" fill="none" stroke="#7a7a7a" stroke-width="2.0" stroke-linejoin="round" stroke-linecap="butt"/>
<polyline points="938.4,682.0 938.4,690.0" fill="none" stroke="#141414" stroke-width="2.9" stroke-linejoin="round" stroke-linecap="butt"/>
<polyline points="991.6,692.7 991.6,705.0" fill="none" stroke="#141414" stroke-width="2.5" stroke-linejoin="round" stroke-linecap="butt"/>
<polyline points="1447.2,652.6 1447.8,652.4 1448.4,652.9 1449.0,654.9 1449.7,651.5 1450.3,653.6 1450.9,652.4 1451.5,654.9 1452.1,655.7 1452.7,654.2 1453.3,652.8 1453.9,654.8 1454.6,654.8 1455.2,655.7 1455.8,655.1 1456.4,655.2 1457.0,655.9 1457.7,656.7 1458.3,655.7 1458.9,655.4 1459.5,657.5 1460.2,654.9 1460.8,656.8 1461.4,655.8 1462.1,657.4 1462.7,655.1 1463.3,658.5 1463.9,656.2 1464.6,655.2 1465.2,657.0 1465.8,656.3 1466.5,657.0 1467.1,655.7 1467.7,657.4 1468.3,657.6 1469.0,658.9 1469.6,657.7 1470.2,657.6 1470.9,657.6 1471.5,659.8 1472.1,660.7 1472.7,659.3 1473.4,658.3 1474.0,659.6 1474.6,660.9 1475.3,659.4 1475.9,658.9 1476.5,658.7 1477.1,661.3 1477.8,661.5 1478.4,661.0 1479.0,660.5 1479.7,661.0 1480.3,659.8 1480.9,662.8 1481.5,660.6 1482.2,661.8 1482.8,661.4 1483.4,662.7 1484.1,662.8 1484.7,661.6 1485.3,661.0 1485.9,662.0 1486.6,660.5 1487.2,663.3 1487.8,661.6 1488.5,663.6 1489.1,661.4 1489.7,662.0 1490.3,661.6 1491.0,662.3 1491.6,662.7 1492.2,661.7 1492.9,661.1 1493.5,664.0 1494.1,662.5 1494.7,662.5 1495.4,662.9 1496.0,663.7 1496.6,663.7 1497.3,664.6 1497.9,664.9 1498.5,663.9 1499.1,666.2 1499.8,666.1 1500.4,664.9 1501.0,663.8 1501.7,666.1 1502.3,666.5 1502.9,666.3 1503.5,664.7 1504.2,666.8 1504.8,666.4 1505.4,664.8 1506.1,664.9 1506.7,667.7 1507.3,667.1 1507.9,666.1 1508.6,665.8 1509.2,667.1 1509.8,666.2 1510.5,666.5 1511.1,668.1 1511.7,666.9 1512.3,666.4 1513.0,668.6 1513.6,668.4 1514.2,666.7 1514.9,668.8 1515.5,668.0 1516.1,668.6 1516.7,668.3 1517.4,669.0 1518.0,668.0 1518.6,668.9 1519.3,669.1 1519.9,667.4 1520.5,668.9 1521.1,668.6 1521.8,669.2 1522.4,668.5 1523.0,669.8 1523.7,669.0 1524.3,668.3 1524.9,668.3 1525.5,668.1 1526.2,669.2 1526.8,669.3 1527.4,668.2 1528.1,669.4 1528.7,668.6 1529.3,669.6 1529.9,669.8 1530.6,670.0 1531.2,671.0 1531.8,668.7 1532.5,671.1 1533.1,670.1 1533.7,670.5 1534.3,670.9 1535.0,671.5 1535.6,670.6 1536.2,670.3 1536.9,670.6 1537.5,672.2 1538.1,669.8 1538.7,671.4 1539.4,671.5 1540.0,669.9 1540.6,671.6 1541.3,671.9 1541.9,672.7 1542.5,671.1 1543.1,673.1 1543.8,671.8 1544.4,671.9 1545.0,671.9 1545.7,673.1 1546.3,670.8 1546.9,672.8 1547.5,672.6 1548.2,671.8 1548.8,673.4 1549.4,672.0 1550.1,672.4 1550.7,672.6 1551.3,673.4 1551.9,671.9 1552.6,672.6 1553.2,672.8 1553.8,672.6 1554.5,673.0 1555.1,673.8 1555.7,672.3 1556.3,673.9 1557.0,672.7 1557.6,673.0 1558.2,672.4 1558.9,673.1 1559.5,674.4 1560.1,673.5 1560.7,674.0 1561.4,672.7 1562.0,673.2 1562.6,673.0 1563.3,673.1 1563.9,673.7 1564.5,674.0 1565.1,674.4 1565.8,673.1 1566.4,674.1 1567.0,674.3 1567.7,674.4 1568.3,673.6 1568.9,672.5 1569.5,672.8 1570.2,672.1 1570.8,672.8 1571.4,672.4 1572.1,673.9 1572.7,673.6 1573.3,673.8 1573.9,674.2 1574.6,674.7 1575.2,674.1 1575.8,674.4 1576.5,674.5 1577.1,674.5 1577.7,674.7 1578.3,674.6 1579.0,674.9 1579.6,674.6 1580.2,673.7 1580.9,674.1 1581.5,673.4 1582.1,673.5 1582.7,672.2 1583.4,672.1 1584.0,671.9 1584.7,670.0 1585.3,669.1 1586.0,667.7 1586.6,665.7 1587.3,664.0 1589.3,652.0 1590.4,637.4 1591.3,600.0 1591.7,578.0 1592.7,545.0 1593.2,498.5 1593.4,545.0 1594.6,578.0 1595.1,600.0 1595.7,637.4 1596.5,647.0 1598.2,651.9 1598.9,650.4 1599.6,649.4 1600.4,647.9 1601.1,646.1 1601.8,644.6 1604.2,625.3 1605.4,600.0 1606.8,560.0 1607.2,529.0 1608.6,313.0 1609.3,155.0 1609.9,90.4 1610.2,155.0 1610.8,313.0 1611.3,529.0 1611.6,577.0 1612.7,589.0 1613.9,625.3 1616.3,654.3 1616.9,655.8 1617.5,657.4 1618.1,659.2 1618.8,660.7 1619.4,662.6 1620.0,664.5 1620.6,666.3 1621.2,667.7 1621.9,667.2 1622.6,667.4 1623.3,666.3 1623.9,666.3 1624.6,667.2 1625.3,666.6 1626.0,666.4 1629.6,654.3 1632.0,632.5 1632.6,600.0 1633.2,572.0 1634.4,555.0 1634.7,511.0 1635.2,555.0 1636.6,572.0 1636.9,600.0 1637.2,630.1 1639.3,649.5 1639.9,651.9 1640.5,653.8 1641.1,655.2 1641.7,658.0 1642.3,660.6 1643.0,663.4 1643.6,665.6 1644.2,666.9 1644.8,669.1 1645.4,671.3 1646.1,671.7 1646.7,672.8 1647.4,672.8 1648.0,673.3 1648.7,673.7 1649.3,674.3 1650.0,676.2 1650.6,675.9 1651.3,678.0 1651.9,677.1 1652.6,678.5 1653.2,679.0 1653.8,677.4 1654.4,677.0 1655.0,678.1 1655.6,677.0 1656.2,677.7 1656.9,676.5 1657.5,676.1 1658.1,677.2 1658.7,676.9 1659.3,676.9 1659.9,676.1 1660.6,675.5 1661.3,673.3 1662.0,673.2 1662.6,672.4 1663.3,670.9 1664.0,670.2 1664.7,668.9 1667.7,649.5 1668.9,620.4 1670.9,640.0 1671.5,668.0 1672.1,669.1 1672.8,671.1 1673.4,672.2 1674.0,672.2 1674.7,673.5 1675.3,675.7 1676.0,677.0 1676.6,678.1 1677.2,678.0 1677.8,678.2 1678.4,678.9 1679.0,678.1 1679.6,679.5 1680.2,679.0 1680.8,678.4 1681.4,679.1 1682.0,679.6 1682.6,679.5 1683.2,679.8 1683.9,680.1 1684.5,679.0 1685.2,680.2 1685.8,679.3 1686.5,679.8 1687.2,679.7 1687.8,679.2 1688.5,679.1 1689.1,679.8 1689.8,679.2 1690.4,679.6 1691.0,679.0 1691.6,678.2 1692.2,677.4 1692.9,676.6 1693.5,677.8 1694.1,676.9 1694.7,676.4 1695.3,675.9 1696.0,674.5 1696.6,673.4 1697.3,672.5 1697.9,670.8 1698.6,669.3 1701.4,666.0 1702.0,667.1 1702.7,667.8 1703.3,668.9 1703.9,670.5 1704.6,671.0 1705.2,672.1 1708.0,666.0 1709.1,655.6 1710.7,670.4 1711.4,672.5 1712.0,674.5 1712.7,676.8 1713.3,678.5 1714.0,680.3 1714.6,680.5 1715.2,680.5 1715.8,681.0 1716.4,681.6 1717.1,682.3 1717.7,683.1 1718.3,683.6 1718.9,682.4 1719.5,683.6 1720.1,684.3 1720.7,684.3 1721.3,684.5 1721.9,684.0 1722.6,683.5 1723.2,684.6 1723.8,684.6 1724.4,684.5 1725.0,684.2 1725.6,685.0 1726.2,684.0 1726.8,683.6 1727.4,684.5 1728.1,685.0 1728.7,684.0 1729.3,685.1 1729.9,685.5 1730.5,684.3 1731.1,685.0 1731.7,685.2 1732.3,684.9 1732.9,684.5 1733.6,684.6 1734.2,685.6 1734.8,685.7 1735.4,685.2 1736.0,685.3 1736.6,684.4 1737.2,685.6 1737.8,685.4 1738.4,684.3 1739.1,684.8 1739.7,685.3 1740.3,685.1 1740.9,684.4 1741.5,684.2 1742.1,684.2 1742.7,683.4 1743.3,683.3 1743.9,683.1 1744.6,684.0 1745.2,683.2 1745.8,683.5 1746.4,683.0 1747.0,683.1 1747.6,683.5 1748.2,683.2 1748.8,683.4 1749.4,685.5 1750.1,684.7 1750.7,684.6 1751.3,685.9 1751.9,686.6 1752.5,686.4 1753.1,685.8 1753.7,686.6 1754.3,686.2 1754.9,686.5 1755.6,685.7 1756.2,685.7 1756.8,687.5 1757.4,687.3 1758.0,686.6 1758.6,686.8 1759.2,686.3 1759.8,687.2 1760.4,686.6 1761.1,687.6 1761.7,687.3 1762.3,687.4 1762.9,687.7 1763.5,686.9 1764.1,686.4 1764.7,685.9 1765.3,686.2 1765.9,686.1 1766.6,685.8 1767.2,685.7 1767.8,686.6 1768.4,687.1 1769.0,686.3 1769.6,687.1 1770.2,687.0 1770.8,685.4 1771.4,686.3 1772.1,685.9 1772.7,685.3 1773.3,686.7 1773.9,685.4 1774.5,685.8 1775.1,686.0 1775.7,686.2 1776.3,686.8 1776.9,686.3 1777.6,685.9 1778.2,686.1 1778.8,685.6 1779.4,687.1 1780.0,687.2 1780.6,685.9 1781.2,685.6 1781.8,686.1 1782.4,686.3 1783.1,687.4 1783.7,687.4 1784.3,687.4 1784.9,686.0 1785.5,686.9 1786.1,687.3 1786.8,687.1 1787.4,687.0 1788.0,687.5 1788.7,685.8 1789.3,685.9 1789.9,686.9 1790.6,687.2 1791.2,686.6 1791.8,685.9 1792.5,686.3 1793.1,686.6 1793.7,685.3 1794.4,685.6 1795.0,685.9 1795.6,685.1 1796.2,684.4 1796.8,684.6 1797.4,683.7 1798.0,683.4 1798.7,682.8 1799.3,683.4 1799.9,681.8 1800.5,682.6 1801.1,681.5 1801.7,681.2 1802.3,681.0 1805.2,660.4 1808.3,681.0 1808.9,681.7 1809.5,681.7 1810.1,683.2 1810.7,683.6 1811.3,684.1 1812.0,683.3 1812.6,684.3 1813.2,684.5 1813.8,685.6 1814.4,685.9 1815.0,686.1 1815.6,686.1 1816.2,686.0 1816.8,685.8 1817.4,686.7 1818.0,686.1 1818.6,686.4 1819.2,685.6 1819.8,685.8 1820.4,685.5 1821.0,686.8 1821.6,686.5 1822.2,685.8 1822.8,687.2 1823.5,686.1 1824.1,686.4 1824.7,686.0 1825.3,686.3 1825.9,687.3 1826.5,686.5 1827.1,686.2 1827.7,686.8 1828.3,686.6 1828.9,687.7 1829.5,686.3 1830.1,687.9 1830.7,686.3 1831.3,687.1 1831.9,687.7 1832.5,687.2 1833.1,686.2 1833.7,686.6 1834.3,686.1 1834.9,685.9 1835.5,685.7 1836.1,685.9 1836.7,686.9 1837.3,686.8 1838.0,686.5 1838.6,684.9 1839.2,685.2 1839.8,686.1 1840.4,684.5 1841.0,685.6 1841.6,684.7 1842.2,685.8 1842.8,683.9 1843.4,684.7 1844.0,684.7 1844.6,683.4 1845.2,682.5 1845.8,681.8 1846.4,682.8 1847.1,681.7 1847.7,680.6 1848.3,680.5 1848.9,680.8 1849.5,679.3 1850.1,679.1 1850.7,678.6 1851.4,675.9 1852.1,673.3 1852.8,671.8 1853.4,669.3 1854.1,666.1 1854.8,663.8 1855.5,661.6 1857.5,632.6 1858.5,584.1 1859.4,552.7 1859.9,490.9 1861.2,494.5 1862.3,559.9 1864.0,562.3 1865.2,632.6 1866.4,654.4 1870.1,673.8 1870.7,674.4 1871.3,675.5 1871.9,676.2 1872.5,676.6 1873.1,677.3 1873.7,678.8 1874.3,679.8 1874.9,680.8 1875.5,681.1 1876.1,681.5 1876.7,682.4 1877.3,683.4 1877.9,683.7 1878.5,683.6 1879.1,684.2 1879.7,683.2 1880.3,684.7 1881.0,684.0 1881.6,685.1 1882.2,685.3 1882.8,684.8 1883.4,684.1 1884.0,685.8 1884.6,685.2 1885.2,686.1 1885.8,685.1 1886.4,685.1 1887.0,686.5 1887.6,685.8 1888.2,685.6 1888.9,686.1 1889.5,686.7 1890.1,685.7 1890.7,686.8 1891.3,686.8 1891.9,687.1 1892.5,687.1 1893.1,686.3 1893.7,687.3 1894.3,687.4 1894.9,687.5 1895.5,686.4 1896.1,687.1 1896.7,686.4 1897.3,687.0 1898.0,685.7 1898.6,687.1 1899.2,687.2 1899.8,686.3 1900.4,686.3 1901.0,686.3 1901.6,686.2 1902.2,685.2 1902.8,686.9 1903.4,685.5 1904.0,685.9 1904.6,684.9 1905.2,684.3 1905.8,684.1 1906.4,684.6 1907.0,682.8 1907.6,682.4 1908.2,683.1 1908.8,681.7 1909.5,680.9 1910.1,681.5 1910.7,681.0 1911.3,680.5 1911.9,680.3 1912.5,679.1 1913.1,679.3 1913.7,678.6 1916.6,659.2 1917.3,649.5 1918.5,630.2 1919.7,647.1 1920.9,649.5 1922.1,668.9 1925.8,683.4 1926.4,683.8 1927.0,683.6 1927.6,683.8 1928.3,684.7 1928.9,685.0 1929.5,685.0 1930.1,685.0 1930.7,685.8 1931.3,685.7 1931.9,686.8 1932.5,687.6 1933.2,686.7 1933.8,687.8 1934.4,688.4 1935.0,688.3 1935.6,687.6 1936.2,688.7 1936.8,688.8 1937.5,687.8 1938.1,687.7 1938.7,688.4 1939.3,687.7 1939.9,687.8 1940.6,687.6 1941.2,688.7 1941.8,688.4 1942.4,687.7 1943.1,687.6 1943.7,687.8 1944.3,688.1 1944.9,689.1 1945.6,688.8 1946.2,689.1 1946.8,689.0 1947.4,689.1 1948.1,687.7 1948.7,688.6 1949.3,688.6 1949.9,689.3 1950.6,689.2 1951.2,687.9 1951.8,688.2 1952.4,688.5 1953.0,687.9 1953.7,688.2 1954.3,687.3 1954.9,687.9 1955.5,687.9 1956.1,687.0 1956.8,687.2 1957.4,688.6 1958.0,687.7 1958.6,687.9 1959.3,688.0 1959.9,687.2 1960.5,687.2 1961.1,687.1 1961.8,686.9 1962.4,685.1 1963.0,685.9 1963.6,685.0 1964.3,685.5 1964.9,684.5 1965.5,684.7 1966.1,684.9 1966.8,684.2 1967.4,683.9 1968.0,682.5 1968.6,681.4 1969.3,680.1 1969.9,679.7 1970.5,677.3 1971.1,676.1 1971.8,675.4 1972.4,673.7 1973.0,672.7 1973.6,670.9 1974.2,669.5 1974.8,667.1 1975.5,665.0 1976.1,663.3 1976.7,661.5 1979.0,640.9 1980.5,614.8 1981.4,594.2 1982.9,562.4 1984.2,594.2 1985.7,620.4 1986.1,652.1 1988.9,669.0 1989.5,670.6 1990.1,671.7 1990.8,673.0 1991.4,674.8 1992.0,676.6 1992.6,678.3 1993.2,678.1 1993.9,677.8 1994.5,677.4 1995.1,677.2 1995.8,677.6 1996.4,677.4 1999.2,670.8 1999.8,672.9 2000.4,674.7 2001.1,676.6 2001.7,678.5 2002.3,680.1 2002.9,682.1 2003.5,682.7 2004.1,683.1 2004.8,683.7 2005.4,684.3 2006.0,684.6 2006.6,684.8 2007.3,685.2 2007.9,685.7 2008.5,686.7 2009.1,686.7 2009.8,686.5 2010.4,686.9 2011.0,685.8 2011.6,686.4 2012.2,687.4 2012.9,686.2 2013.5,686.8 2014.1,686.7 2014.8,686.5 2015.4,687.0 2016.0,686.7 2016.7,685.0 2017.3,683.8 2018.0,681.3 2018.7,679.5 2019.4,679.1 2020.0,677.1 2020.7,675.5 2021.4,676.7 2022.0,678.3 2022.7,679.8 2023.3,681.8 2024.0,682.4 2024.6,684.2 2025.3,685.8 2025.9,686.2 2026.6,686.4 2027.2,685.8 2027.8,686.3 2028.4,686.5 2029.1,687.2 2029.7,687.3 2030.3,687.9 2030.9,688.1 2031.6,687.7 2032.2,688.3 2032.8,688.5 2033.4,688.7 2034.1,688.4 2034.7,688.6 2035.3,689.1 2035.9,689.0 2036.5,689.3 2037.2,687.9 2037.8,689.3 2038.4,687.7 2039.0,689.1 2039.6,688.8 2040.2,688.6 2040.9,689.4 2041.5,688.7 2042.1,688.6 2042.8,688.0 2043.4,688.2 2044.1,687.9 2044.7,686.9 2045.4,686.0 2046.1,685.7 2046.7,685.2 2047.4,685.1 2048.0,684.2 2048.7,683.9 2049.3,684.2 2049.9,684.8 2050.5,684.9 2051.1,685.2 2051.7,686.4 2052.3,686.9 2052.9,686.7 2053.5,687.0 2054.1,686.9 2054.7,687.5 2055.3,687.7 2055.9,688.8 2056.5,689.1 2057.1,689.5 2057.7,689.3 2058.3,690.0 2059.0,689.3 2059.6,690.3 2060.2,690.3 2060.8,690.5 2061.5,689.2 2062.1,689.6 2062.7,690.6 2063.3,689.0 2064.0,689.1 2064.6,690.0 2065.2,690.0 2065.8,690.8 2066.5,690.5 2067.1,690.1 2067.7,690.1 2068.3,691.2 2069.0,690.5 2069.6,690.7 2070.3,691.2 2070.9,690.9 2071.6,691.0 2072.2,691.6 2072.8,691.4 2073.5,692.6 2074.1,692.3 2074.8,692.3 2075.4,692.4 2076.0,691.5 2076.7,691.8 2077.3,691.6 2078.0,691.7 2078.6,691.6 2079.2,691.9 2079.9,691.9 2080.5,690.8 2081.2,690.6 2081.8,690.7 2082.5,691.2 2083.1,690.1 2083.7,689.9 2084.4,690.2 2085.0,690.8 2085.7,689.6 2086.3,689.9 2086.9,691.2 2087.6,690.9 2088.2,690.4 2088.9,689.7 2089.5,691.1 2090.2,690.8 2090.8,690.5 2091.4,691.1 2092.1,691.4 2092.7,691.3 2093.4,690.5 2094.0,690.0 2094.7,690.3 2095.3,690.7 2095.9,690.7 2096.6,690.2 2097.2,690.2 2097.9,691.0 2098.5,690.8 2099.1,691.1 2099.8,690.7 2100.4,691.9 2101.1,691.3 2101.7,690.3 2102.3,691.0 2103.0,691.8 2103.6,691.0 2104.3,691.7 2104.9,690.6 2105.6,691.2 2106.2,691.6 2106.8,692.1 2107.5,691.6 2108.1,691.7 2108.8,690.8 2109.4,691.3 2110.1,691.3 2110.7,690.7 2111.3,691.3 2112.0,691.1 2112.6,691.8 2113.3,691.0 2113.9,690.8 2114.5,690.6 2115.1,690.0 2115.8,690.0 2116.4,691.0 2117.0,689.7 2117.6,689.7 2118.2,689.7 2118.9,690.3 2119.5,690.8 2120.1,690.1 2120.8,690.0 2121.4,690.0 2122.1,688.3 2122.7,687.9 2123.4,688.8 2124.0,688.0 2124.7,687.8 2125.4,688.1 2126.0,688.1 2126.7,687.9 2127.3,688.2 2128.0,688.4 2128.6,689.3 2129.3,689.3 2130.0,689.6 2130.6,689.6 2131.2,690.0 2131.9,690.1 2132.5,689.7 2133.2,690.8 2133.8,691.5 2134.5,690.9 2135.1,691.6 2135.8,690.7 2136.4,691.0 2137.1,690.3 2137.7,690.0 2138.3,691.6 2139.0,691.4 2139.6,690.5 2140.3,691.5 2140.9,690.8 2141.5,691.4 2142.2,690.5 2142.8,691.1 2143.5,691.8 2144.1,691.0 2144.8,691.8 2145.4,690.6 2146.0,690.9 2146.7,691.5 2147.3,690.6 2148.0,690.8 2148.6,691.2 2149.2,691.9 2149.9,691.2 2150.5,691.7 2151.2,690.7 2151.8,690.6 2152.4,690.9 2153.1,690.6 2153.7,692.0 2154.4,690.8 2155.0,691.3 2155.7,690.5 2156.3,691.2 2157.0,691.0 2157.7,690.5 2158.3,690.3 2159.0,689.5 2159.7,689.3 2160.3,690.2 2161.0,689.4 2161.7,689.3 2162.4,688.7 2163.0,688.0 2163.7,687.6 2164.3,687.1 2165.0,686.5 2165.6,686.7 2166.3,686.2 2168.6,683.1 2170.6,678.5 2173.3,684.7 2175.6,687.8 2176.2,688.0 2176.9,688.0 2177.5,689.0 2178.2,688.2 2178.8,688.8 2179.4,690.2 2180.1,689.2 2180.7,690.0 2181.3,691.0 2182.0,691.3 2182.6,690.4 2183.3,691.0 2183.9,691.6 2184.5,691.9 2185.1,691.2 2185.7,692.1 2186.4,690.7 2187.0,691.9 2187.6,691.0 2188.2,690.4 2188.8,690.7 2189.4,690.0 2190.0,691.0 2190.6,690.1 2191.3,691.1 2191.9,690.5 2192.5,690.0 2193.1,690.1 2193.7,689.7 2194.3,690.4 2194.9,689.7 2195.5,690.9 2196.2,689.6 2196.8,690.3 2197.4,690.4 2198.0,690.0 2198.6,690.9 2199.2,690.3 2199.8,690.8 2200.4,690.7 2201.0,690.2 2201.6,690.4 2202.3,689.9 2202.9,690.1 2203.5,691.4 2204.1,690.4 2204.7,690.8 2205.3,691.0 2206.0,690.0 2206.6,690.7 2207.3,690.3 2207.9,690.5 2208.6,690.1 2209.2,689.6 2209.8,690.0 2210.5,689.8 2211.1,689.8 2211.8,690.3 2212.4,690.1 2213.0,689.6 2213.7,689.3 2214.3,689.7 2214.9,689.2 2215.5,689.0 2216.2,688.6 2216.8,687.0 2217.4,686.9 2218.0,686.4 2218.7,686.7 2219.3,686.2 2220.0,684.8 2220.6,683.0 2221.2,681.4 2221.9,680.3 2222.5,678.6 2223.2,677.0 2223.8,678.3 2224.5,680.2 2225.1,681.0 2225.7,682.8 2226.4,683.9 2227.0,685.5 2227.6,685.7 2228.3,686.8 2228.9,687.2 2229.5,687.6 2230.2,686.8 2230.8,687.2 2231.5,687.8 2232.1,688.3 2232.7,689.0 2233.4,689.6 2234.0,690.1 2234.6,689.9 2235.2,690.0 2235.9,690.4 2236.5,689.7 2237.1,690.9 2237.7,690.4 2238.3,690.7 2239.0,689.9 2239.6,690.3 2240.2,690.8 2240.8,690.2 2241.4,689.6 2242.0,691.1 2242.7,691.1 2243.3,690.2 2243.9,689.8 2244.5,691.3 2245.1,690.9 2245.8,689.9 2246.4,690.3 2247.0,690.8 2247.6,690.1 2248.2,691.3 2248.8,690.2 2249.4,691.4 2250.1,691.1 2250.7,689.8 2251.3,690.9 2251.9,690.3 2252.5,690.9 2253.1,691.0 2253.7,690.0 2254.3,689.6 2254.9,691.1 2255.5,690.1 2256.2,691.0 2256.8,690.6 2257.4,690.6 2258.0,690.7 2258.6,690.1 2259.2,690.1 2259.8,689.6 2260.4,688.6 2261.0,689.6 2261.6,688.9 2262.2,688.8 2262.8,689.3 2263.5,687.7 2264.1,688.6 2264.7,687.1 2265.3,688.0 2265.9,687.8 2266.5,687.1 2267.1,687.0 2267.7,686.4 2268.3,686.3 2268.9,685.4 2269.5,684.6 2270.1,683.4 2270.8,682.5 2271.4,682.4 2272.0,681.9 2272.6,681.3 2273.2,680.8" fill="none" stroke="#1a1a1a" stroke-width="2.0" stroke-linejoin="round" stroke-linecap="round"/>
<polyline points="1593.2,498.5 1593.2,529.0" fill="none" stroke="#8c8c8c" stroke-width="2.2" stroke-linejoin="round" stroke-linecap="butt"/>
<polyline points="1593.0,529.0 1593.0,574.0" fill="none" stroke="#141414" stroke-width="2.3" stroke-linejoin="round" stroke-linecap="butt"/>
<polyline points="1609.9,90.4 1609.9,155.0" fill="none" stroke="#8c8c8c" stroke-width="2.3" stroke-linejoin="round" stroke-linecap="butt"/>
<polyline points="1609.3,155.0 1609.5,313.0" fill="none" stroke="#141414" stroke-width="2.3" stroke-linejoin="round" stroke-linecap="butt"/>
<polyline points="1610.0,313.0 1610.4,578.0" fill="none" stroke="#8a8a8a" stroke-width="3.4" stroke-linejoin="round" stroke-linecap="butt"/>
<polyline points="1635.6,551.0 1635.8,572.0" fill="none" stroke="#141414" stroke-width="2.4" stroke-linejoin="round" stroke-linecap="butt"/>
<polyline points="1860.3,492.0 1860.6,556.0" fill="none" stroke="#141414" stroke-width="2.4" stroke-linejoin="round" stroke-linecap="butt"/>
<polyline points="1982.9,563.0 1983.2,590.0" fill="none" stroke="#141414" stroke-width="2.0" stroke-linejoin="round" stroke-linecap="butt"/>
</svg>
</body></html>
